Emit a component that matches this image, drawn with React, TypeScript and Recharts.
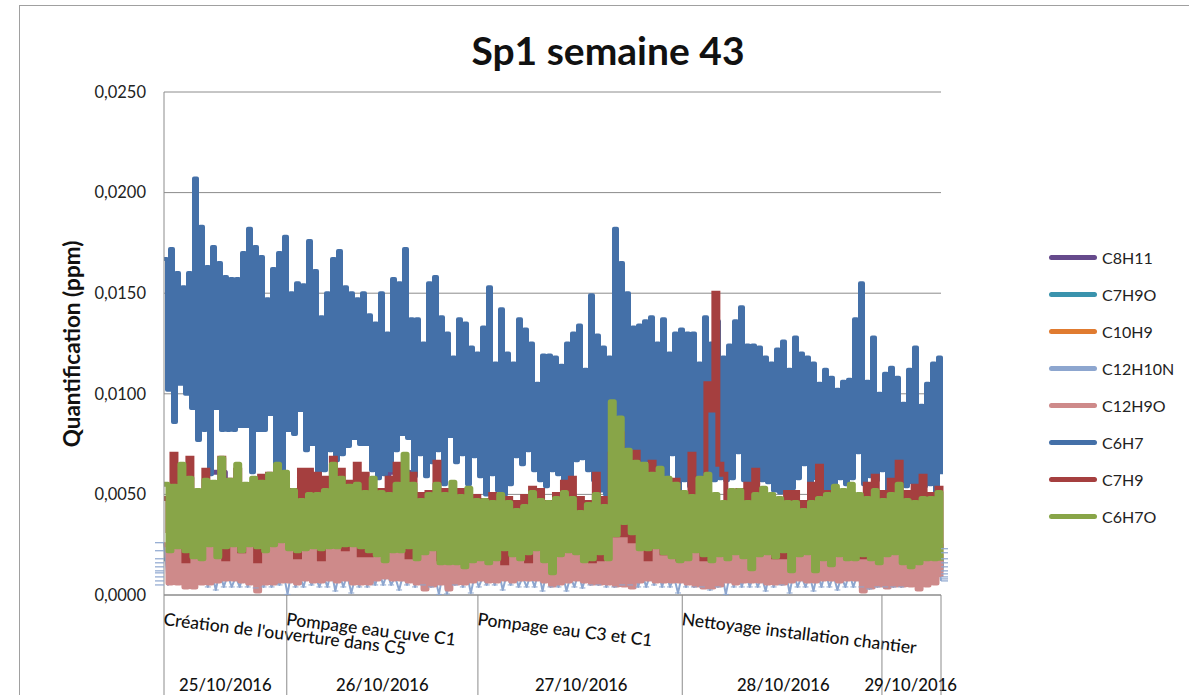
import React from "react"
import { LineChart, Line, XAxis, YAxis, CartesianGrid, Legend } from "recharts"

// every reading below is in 1e-4 ppm from left to right
const yTicks = [0, 0.005, 0.01, 0.015, 0.02, 0.025]

const dayEdges = [0, 158, 404, 667, 924, 1000]
const dayMiddles = [79, 281, 537, 797, 961]
const dates = ["25/10/2016", "26/10/2016", "27/10/2016", "28/10/2016", "29/10/2016"]
const activities = ["Création de l'ouverture dans C5", "Pompage eau cuve C1", "Pompage eau C3 et C1", "Nettoyage installation chantier"]

const c6h7High = [
  167, 172, 160, 153, 160, 207, 183, 163, 173, 165, 158, 157, 157, 170, 182, 173, 168, 147, 162, 170, 178, 150,
  155, 154, 176, 161, 138, 150, 167, 171, 153, 150, 147, 150, 139, 135, 150, 130, 157, 155, 172, 137, 137, 125,
  155, 158, 138, 130, 118, 137, 135, 123, 120, 133, 153, 115, 142, 120, 115, 137, 132, 125, 105, 119, 119, 118,
  114, 125, 130, 134, 112, 149, 129, 123, 118, 182, 165, 150, 133, 134, 136, 138, 125, 137, 120, 130, 132, 130,
  130, 115, 138, 125, 136, 118, 124, 136, 143, 124, 124, 123, 118, 115, 122, 126, 112, 128, 120, 118, 115, 105,
  112, 108, 102, 106, 107, 137, 155, 106, 128, 100, 110, 113, 108, 95, 112, 123, 94, 105, 115, 118,
]
const c6h7Low = [
  102, 86, 105, 100, 93, 77, 82, 60, 93, 82, 82, 82, 84, 84, 61, 82, 82, 90, 55, 55, 82, 80, 92, 72, 75, 57, 62,
  72, 67, 70, 74, 78, 75, 75, 62, 58, 60, 62, 72, 80, 78, 59, 70, 59, 66, 72, 55, 79, 66, 70, 55, 69, 59, 50, 60,
  52, 50, 55, 69, 65, 72, 62, 57, 54, 62, 60, 52, 54, 67, 68, 62, 57, 52, 50, 49, 48, 52, 66, 69, 62, 67, 60, 65,
  58, 70, 52, 57, 54, 52, 58, 61, 57, 58, 57, 58, 71, 57, 54, 55, 57, 56, 52, 51, 53, 53, 58, 65, 52, 58, 52, 49,
  55, 58, 55, 58, 71, 55, 59, 57, 62, 51, 52, 60, 54, 56, 52, 54, 55, 51, 60,
]

const c6h7oHigh = [
  55, 54, 65, 58, 52, 57, 56, 68, 57, 65, 55, 58, 56, 60, 65, 61, 52, 47, 50, 50, 52, 65, 58, 54, 55, 51,
  58, 51, 50, 55, 70, 55, 47, 50, 55, 50, 56, 49, 53, 47, 47, 46, 50, 46, 42, 44, 51, 47, 46, 48, 51,
  48, 41, 45, 50, 44, 96, 88, 72, 66, 65, 60, 63, 58, 55, 51, 49, 58, 60, 50, 46, 52, 52, 46, 50, 53, 50,
  48, 46, 46, 42, 46, 48, 50, 54, 52, 55, 50, 48, 52, 47, 50, 55, 47, 46, 48, 48, 51,
]
const c6h7oLow = [
  22, 24, 22, 19, 18, 25, 19, 24, 25, 22, 25, 24, 22, 25, 27, 23, 22, 23, 24, 23, 24, 24, 25, 25, 24, 22,
  20, 17, 22, 22, 24, 18, 21, 23, 16, 16, 16, 14, 17, 18, 16, 18, 23, 20, 18, 21, 23, 17, 11, 20, 22,
  21, 17, 18, 21, 18, 30, 36, 31, 23, 23, 24, 21, 19, 17, 18, 22, 20, 17, 20, 18, 21, 19, 13, 20, 21, 19,
  22, 12, 20, 21, 12, 18, 15, 20, 18, 18, 20, 18, 16, 20, 21, 16, 14, 16, 18, 18, 17,
]

const c7h9High = [
  48, 70, 55, 68, 51, 62, 52, 68, 57, 62, 54, 55, 59, 60, 55, 56, 52, 62, 62, 60, 58, 68, 62, 56, 65, 60,
  45, 52, 58, 65, 58, 60, 50, 51, 66, 52, 50, 52, 48, 49, 47, 50, 49, 48, 46, 49, 53, 52, 46, 50, 56,
  58, 48, 46, 60, 48, 70, 80, 68, 71, 55, 66, 55, 50, 57, 48, 70, 52, 105, 150, 60, 50, 52, 55, 62, 48, 46,
  45, 51, 51, 46, 55, 64, 51, 45, 45, 50, 46, 55, 59, 51, 57, 66, 51, 54, 59, 50, 53,
]
const c7h9Low = [
  32, 30, 17, 30, 30, 30, 30, 18, 28, 22, 30, 17, 30, 26, 30, 30, 19, 30, 25, 18, 30, 30, 23, 30, 20, 20,
  32, 32, 30, 30, 19, 30, 30, 30, 18, 30, 30, 30, 28, 30, 30, 30, 16, 30, 30, 17, 30, 30, 28, 30, 30,
  30, 30, 17, 18, 30, 30, 30, 27, 27, 18, 30, 21, 30, 18, 30, 30, 18, 92, 65, 30, 22, 30, 21, 30, 30, 19,
  19, 22, 30, 30, 30, 30, 30, 30, 30, 30, 19, 30, 21, 30, 30, 30, 30, 30, 30, 30, 23,
]

const c12h9oHigh = [
  25, 25, 24, 26, 25, 24, 25, 26, 26, 25, 26, 25, 26, 25, 27, 26, 25, 25, 26, 25, 26, 26, 27, 26, 25, 25,
  24, 24, 25, 24, 25, 24, 24, 25, 24, 23, 23, 24, 23, 24, 23, 24, 25, 23, 24, 24, 25, 24, 22, 24, 24,
  24, 23, 24, 24, 24, 28, 30, 31, 30, 27, 26, 25, 24, 24, 24, 24, 23, 24, 24, 24, 25, 24, 24, 24, 24, 23,
  24, 23, 24, 24, 23, 24, 24, 25, 25, 24, 24, 24, 24, 25, 25, 25, 24, 24, 24, 24, 25,
]
const c12h9oLow = [
  6, 6, 4, 4, 6, 6, 7, 8, 8, 7, 6, 2, 6, 6, 7, 7, 6, 8, 7, 7, 8, 7, 8, 6, 6, 6,
  8, 9, 8, 8, 7, 6, 3, 5, 6, 3, 6, 6, 7, 8, 7, 7, 8, 7, 8, 8, 8, 7, 5, 6, 7,
  8, 7, 6, 6, 6, 5, 5, 4, 7, 8, 7, 7, 7, 7, 6, 5, 4, 4, 5, 7, 6, 7, 7, 7, 6, 6,
  6, 7, 8, 7, 7, 8, 8, 7, 8, 8, 2, 4, 5, 4, 5, 5, 5, 3, 5, 6, 9,
]

const c12h10nHigh = [
  26, 22, 18, 16, 14, 10, 11, 12, 10, 9, 11, 10, 12, 10, 9, 11, 12, 10, 11, 9, 10, 12, 11, 10, 9, 11,
  10, 12, 11, 9, 10, 11, 12, 10, 9, 11, 10, 12, 11, 10, 9, 11, 12, 10, 11, 9, 10, 12, 11, 10, 11,
  9, 11, 10, 12, 11, 10, 13, 14, 12, 11, 10, 12, 11, 9, 10, 11, 12, 10, 9, 11, 10, 12, 11, 10, 9, 11,
  10, 12, 11, 9, 10, 11, 12, 10, 9, 11, 10, 12, 11, 10, 9, 13, 14, 16, 18, 21, 23,
]
const c12h10nLow = [
  5, 7, 9, 11, 12, 4, 2.5, 4, 4, 4, 4, 3.5, 4, 4, 5, 0.3, 4, 4, 5, 4, 4, 2, 4, 1, 4, 4,
  5, 5, 5, 2.5, 5, 4, 5, 4, 0.3, 0.5, 5, 4, 1, 4, 5, 5, 2.5, 5, 4, 4, 4, 2, 4, 4, 2,
  4, 3.5, 5, 5, 4, 4, 5, 5, 4, 4, 5, 4, 4, 1, 4, 4, 4, 2.5, 4, 0.3, 4, 4, 4, 4, 2, 4,
  5, 1, 4, 4, 2, 4, 4, 2.5, 4, 4, 4, 3, 4, 4, 4, 4, 12, 10.5, 9, 8, 7,
]

const c8h11Values = [
  20, 12, 61, 18, 22, 14, 20, 16, 22, 12, 20, 61, 18, 14, 20, 12, 22, 16, 18, 14,
  20, 16, 22, 12, 18, 14, 20, 16, 22, 12, 20, 14, 18, 16, 22, 12, 20, 14, 18,
]
const c7h9oValues = [
  18, 10, 20, 14, 22, 12, 18, 16, 20, 10, 22, 14, 18, 12, 20, 16, 18, 10, 22, 14,
  20, 12, 18, 16, 20, 10, 22, 14, 18, 12, 20, 16, 18, 10, 22, 14, 20, 12, 18,
]
const c10h9Values = [
  20, 14, 22, 16, 20, 12, 24, 18, 20, 14, 22, 16, 20, 12, 24, 18, 20, 14, 22, 16, 20, 12, 24, 18, 20, 14, 22, 16,
  20, 12, 24, 18, 20, 14, 22, 16, 24, 48, 22, 14, 20, 18, 24, 12, 20, 16, 22, 14, 20, 18, 24, 12, 20, 16, 22, 14,
  20, 18, 24, 49, 20, 16, 22, 14, 20, 18,
]

const FONT = "Lato, 'Open Sans', sans-serif"

// turns a list of readings into points spread evenly along the sample axis
const toPoints = (values: number[]) =>
  values.map((v, i) => ({ sample: (i / (values.length - 1)) * 1000, ppm: v / 10000 }))

const zigzag = (high: number[], low: number[]) => high.flatMap((h, i) => [h, low[i]])

const SERIES = [
  { name: "C8H11", color: "#664a8c", width: 5, join: "round", curve: "stepAfter", values: c8h11Values },
  { name: "C7H9O", color: "#3a93ad", width: 5, join: "round", curve: "stepAfter", values: c7h9oValues },
  { name: "C10H9", color: "#e07b30", width: 5, join: "round", curve: "stepAfter", values: c10h9Values },
  { name: "C12H10N", color: "#8da6cf", width: 2, join: "round", curve: "linear", values: zigzag(c12h10nHigh, c12h10nLow) },
  { name: "C12H9O", color: "#ce8a8a", width: 5, join: "round", curve: "stepAfter", values: zigzag(c12h9oHigh, c12h9oLow) },
  { name: "C6H7", color: "#4470a8", width: 4, join: "round", curve: "stepAfter", values: zigzag(c6h7High, c6h7Low) },
  { name: "C7H9", color: "#a53f3f", width: 5, join: "miter", curve: "stepAfter", values: zigzag(c7h9High, c7h9Low) },
  { name: "C6H7O", color: "#88a548", width: 5, join: "round", curve: "stepAfter", values: zigzag(c6h7oHigh, c6h7oLow) },
]

// C12H10N has little star markers: only the low ones and the ones past the plot ends show
const StarTick = ({ cx, cy, index, points, stroke }: any) => {
  const last = points.length - 1
  if (index < 10) {
    return <line key={index} x1={points[0].x - 9} x2={points[0].x} y1={cy} y2={cy} stroke={stroke} strokeWidth={1.2} />
  }
  if (index > last - 10) {
    return <line key={index} x1={points[last].x} x2={points[last].x + 7} y1={cy} y2={cy} stroke={stroke} strokeWidth={1.2} />
  }
  if (index % 2 === 0) return <g key={index} />
  return <line key={index} x1={cx - 3} x2={cx + 3} y1={cy} y2={cy} stroke={stroke} strokeWidth={1} />
}

const ChartLegend = ({ payload }: any) => (
  <div style={{ fontFamily: FONT, fontSize: 16, color: "#222" }}>
    {(payload || []).map((item: any) => (
      <div key={item.value} style={{ display: "flex", alignItems: "center", height: 37 }}>
        <div style={{ width: 48, height: 5, borderRadius: 3, background: item.color, marginRight: 5 }} />
        <span>{item.value}</span>
      </div>
    ))}
  </div>
)

const DayTick = ({ x, y, payload }: any) => {
  const edge = dayEdges.indexOf(payload.value)
  if (edge >= 0) {
    return (
      <g>
        <line x1={x} y1={y} x2={x} y2={y + 100} stroke="#8c8c8c" strokeWidth={1} />
        {activities[edge] && (
          <text
            x={x - 1}
            y={y + 30}
            transform={`rotate(7 ${x - 1} ${y + 30})`}
            fontFamily={FONT}
            fontSize={17.5}
            fontWeight={500}
            fill="#111"
          >
            {activities[edge]}
          </text>
        )}
      </g>
    )
  }
  return (
    <text x={x} y={y + 96} textAnchor="middle" fontFamily={FONT} fontSize={16.7} fontWeight={500} fill="#111">
      {dates[dayMiddles.indexOf(payload.value)]}
    </text>
  )
}

const YTitle = () => (
  <text
    transform="translate(80 344) rotate(-90)"
    textAnchor="middle"
    fontFamily={FONT}
    fontSize={22.5}
    fontWeight={700}
    fill="#111"
  >
    Quantification (ppm)
  </text>
)

export default function App() {
  return (
    <div style={{ position: "absolute", left: 0, top: 0, width: 1189, height: 695, overflow: "hidden", background: "#fff" }}>
      <div
        style={{
          position: "absolute",
          left: 19,
          top: 5,
          width: 1300,
          height: 800,
          border: "1.5px solid #a0a0a0",
        }}
      />
      <div
        style={{
          position: "absolute",
          left: 308,
          top: 25,
          width: 600,
          textAlign: "center",
          fontFamily: FONT,
          fontWeight: 700,
          fontSize: 39,
          lineHeight: "50px",
          color: "#111",
        }}
      >
        Sp1 semaine 43
      </div>
      <LineChart
        width={1189}
        height={695}
        margin={{ top: 92, right: 248, bottom: 0, left: 0 }}
        style={{ position: "absolute", left: 0, top: 0 }}
      >
        <CartesianGrid horizontal vertical={false} stroke="#8c8c8c" strokeWidth={1} />
        <XAxis
          type="number"
          dataKey="sample"
          domain={[0, 1000]}
          ticks={[...dayEdges, ...dayMiddles].sort((a, b) => a - b)}
          interval={0}
          height={100}
          tickLine={false}
          tickSize={0}
          tickMargin={0}
          stroke="#8c8c8c"
          tick={DayTick}
        />
        <YAxis
          type="number"
          width={164}
          domain={[0, 0.025]}
          ticks={yTicks}
          tickFormatter={(v: number) => v.toFixed(4).replace(".", ",")}
          tickLine={false}
          tickMargin={12}
          stroke="#8c8c8c"
          tick={{ fontFamily: FONT, fontSize: 16.5, fill: "#222" }}
          label={YTitle}
        />
        {SERIES.map((s) => (
          <Line
            key={s.name}
            name={s.name}
            type={s.curve as any}
            data={toPoints(s.values)}
            dataKey="ppm"
            stroke={s.color}
            strokeWidth={s.width}
            strokeLinejoin={s.join as any}
            isAnimationActive={false}
            legendType="plainline"
            dot={s.name === "C12H10N" ? StarTick : false}
          />
        ))}
        <Legend
          layout="horizontal"
          verticalAlign="middle"
          itemSorter={null}
          content={ChartLegend}
          wrapperStyle={{ left: 1049, top: 239, width: 140 }}
        />
      </LineChart>
    </div>
  )
}
